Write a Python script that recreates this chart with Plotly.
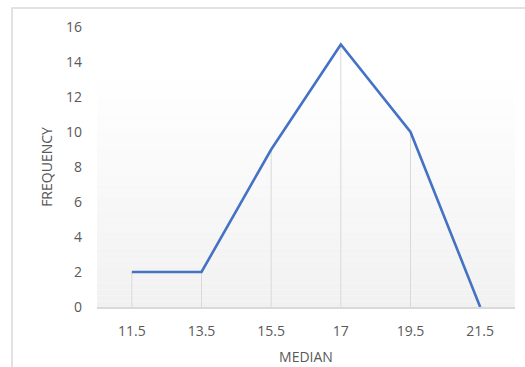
import plotly.graph_objects as go

# Frequency polygon of class medians
medians = ["11.5", "13.5", "15.5", "17", "19.5", "21.5"]
frequency = [2, 2, 9, 15, 10, 0]
y_ticks = [0, 2, 4, 6, 8, 10, 12, 14, 16]

FONT = "Open Sans"
TEXT = "#595959"
LINE_BLUE = "#4472C4"
GRID_GRAY = "#d9d9d9"

fig = go.Figure()

# drop lines from each point down to the category axis
drop_x, drop_y = [], []
for m, f in zip(medians, frequency):
    drop_x += [m, m, None]
    drop_y += [0, f, None]
fig.add_trace(go.Scatter(
    x=drop_x, y=drop_y, mode="lines",
    line=dict(color=GRID_GRAY, width=1),
    hoverinfo="skip", showlegend=False,
))

fig.add_trace(go.Scatter(
    x=medians, y=frequency, mode="lines",
    line=dict(color=LINE_BLUE, width=2.6),
    showlegend=False,
))

# soft vertical gradient in the plot area (white fading to light gray)
shapes = []
n_bands = 40
g_top, g_bottom = 13.3, 0.0
for i in range(n_bands):
    y0 = g_bottom + (g_top - g_bottom) * i / n_bands
    y1 = g_bottom + (g_top - g_bottom) * (i + 1) / n_bands
    t = (i + 0.5) / n_bands
    c = round(241 + (255 - 241) * t)
    shapes.append(dict(
        type="rect", xref="paper", yref="y", x0=0, x1=1, y0=y0, y1=y1,
        fillcolor=f"rgb({c},{c},{c})", line=dict(width=0), layer="below",
    ))

# chart border
shapes.append(dict(
    type="rect", xref="paper", yref="paper",
    x0=-0.2033, x1=1.2, y0=-0.5, y1=1.068,
    line=dict(color=GRID_GRAY, width=1.5), fillcolor="rgba(0,0,0,0)",
))

fig.update_layout(
    width=525, height=367,
    margin=dict(l=97, r=10, t=27, b=60),
    paper_bgcolor="white", plot_bgcolor="white",
    font=dict(family=FONT, color=TEXT, size=14),
    shapes=shapes,
)

fig.update_xaxes(
    type="category", range=[-0.5, 5.5], automargin=False,
    showgrid=False, zeroline=False,
    showline=True, linecolor=GRID_GRAY, linewidth=1.5,
    ticks="", ticklabelstandoff=10,
    tickfont=dict(size=14, color=TEXT),
    title=dict(text="MEDIAN", font=dict(size=14, color=TEXT), standoff=14),
)

fig.update_yaxes(
    range=[0, 16], tickvals=y_ticks, automargin=False,
    showgrid=False, zeroline=False, showline=False,
    ticks="", ticklabelstandoff=14,
    tickfont=dict(size=14, color=TEXT),
    title=dict(text="FREQUENCY", font=dict(size=14, color=TEXT), standoff=10),
)

fig.write_html("out.html")
